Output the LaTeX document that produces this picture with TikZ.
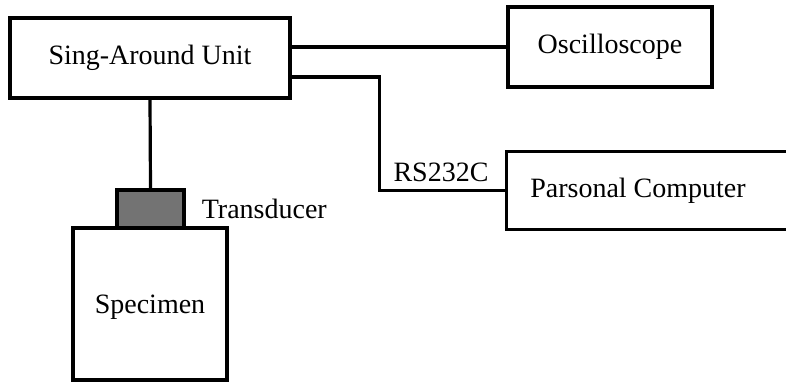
\documentclass[tikz,border=0pt]{standalone}
\usepackage{fontspec}
\setmainfont{Liberation Serif}
\usetikzlibrary{positioning}

\begin{document}
\begin{tikzpicture}[
    x=1pt, y=-1pt,
    unit/.style={rectangle, draw, line width=3.2pt, minimum width=#1, inner sep=0pt, font=\fontsize{28}{32}\selectfont},
    unit/.default={200pt},
    wire/.style={line width=3.2pt},
    label/.style={inner sep=0pt, font=\fontsize{28}{32}\selectfont},
]
    \useasboundingbox (0,0) rectangle (786,383);

    % Boxes
    \node[unit=280pt, minimum height=80pt] (sau) at (150,58) {Sing-Around Unit};
    \node[unit=204pt, minimum height=80pt] (osc) at (610,47) {Oscilloscope};
    \node[unit=284pt, minimum height=75pt, draw=none] (pc) at (650,190.5) {\hspace*{-24pt}Parsonal Computer};
    \node[unit=67pt, minimum height=38pt, fill=black!55] (trd) at (150.5,209) {};
    \node[unit=154pt, minimum height=152pt, text depth=-18pt] (spec) at (150,304) {Specimen};

    % PC box runs off the right edge
    \draw[wire] (pc.north east) -- (pc.north west) -- (pc.south west) -- (pc.south east);

    % Labels
    \node[label, anchor=west, right=16pt of trd] (trdlbl) {Transducer};
    \node[label] (rs) at (441,172) {RS232C};

    % Wiring
    \draw[wire] ([yshift=11pt]sau.east) -- (osc.west);
    \draw[wire] ([yshift=-19pt]sau.east) -- ++(88,0) |- (pc.west);
    \draw[wire] (sau.south) -- (trd.north);
\end{tikzpicture}
\end{document}
